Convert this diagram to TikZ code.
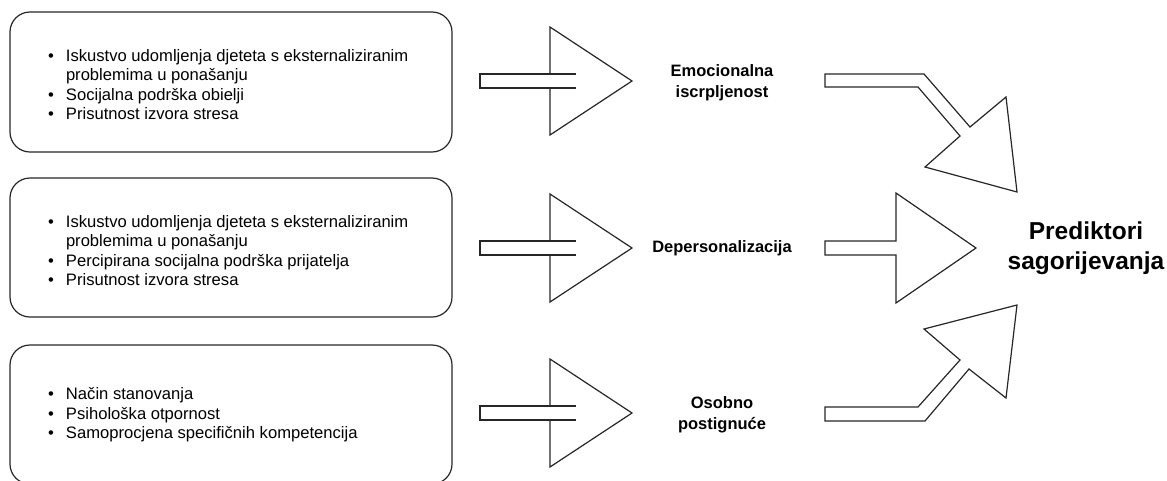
\documentclass[tikz,border=0pt]{standalone}
\usepackage{fontspec}
\setmainfont{Liberation Sans}
\begin{document}
\begin{tikzpicture}[x=1pt,y=-1pt,
  box/.style={draw=black!85, line width=1.2pt, rounded corners=20pt, minimum width=442pt},
  items/.style={anchor=west, inner sep=0pt, align=left, font=\fontsize{16.6}{19.4}\selectfont},
  lbl/.style={font=\bfseries\fontsize{16.5}{21}\selectfont, align=center},
  big/.style={font=\bfseries\fontsize{24.5}{30}\selectfont, align=center},
  blk/.style={draw=black!85, line width=1.2pt, line join=miter}]
\useasboundingbox (0,0) rectangle (1167,480);

\node[box, minimum height=140pt] (b1) at (231,82) {};
\node[box, minimum height=139pt] (b2) at (231,247.5) {};
\node[box, minimum height=139pt] (b3) at (231,414.5) {};

\node[items] (t1) at (48,86.5) {\begin{tabular}{@{}l@{\hspace{12pt}}l@{}}\textbullet & Iskustvo udomljenja djeteta s eksternaliziranim\\ & problemima u ponašanju\\ \textbullet & Socijalna podrška obielji\\ \textbullet & Prisutnost izvora stresa\end{tabular}};
\node[items] (t2) at (48,252.5) {\begin{tabular}{@{}l@{\hspace{12pt}}l@{}}\textbullet & Iskustvo udomljenja djeteta s eksternaliziranim\\ & problemima u ponašanju\\ \textbullet & Percipirana socijalna podrška prijatelja\\ \textbullet & Prisutnost izvora stresa\end{tabular}};
\node[items] (t3) at (48,415.5) {\begin{tabular}{@{}l@{\hspace{12pt}}l@{}}\textbullet & Način stanovanja\\ \textbullet & Psihološka otpornost\\ \textbullet & Samoprocjena specifičnih kompetencija\end{tabular}};

\foreach \y in {81,248,413} {
  \draw[blk] (550,\y-7) -- (550,\y-54) -- (632,\y) -- (550,\y+54) -- (550,\y+7);
  \draw[blk] (576,\y-7) -- (480,\y-7) -- (480,\y+7) -- (576,\y+7);
}

\node[lbl] (l1) at (722,83) {Emocionalna\\iscrpljenost};
\node[lbl] (l2) at (722,248) {Depersonalizacija};
\node[lbl] (l3) at (722,415) {Osobno\\postignuće};
\node[big] (p) at (1086,248) {Prediktori\\sagorijevanja};

\draw[blk] (825,74) -- (924,74) -- (970,127) -- (1006,97) -- (1017,192) -- (925,167) -- (960,136) -- (918,87) -- (825,87) -- cycle;
\draw[blk] (825,241) -- (896,241) -- (896,193) -- (976,248) -- (896,303) -- (896,255) -- (825,255) -- cycle;
\draw[blk] (825,421) -- (925,421) -- (969,369) -- (1006,398) -- (1017,305) -- (924,329) -- (960,360) -- (918,407) -- (825,407) -- cycle;
\end{tikzpicture}
\end{document}
